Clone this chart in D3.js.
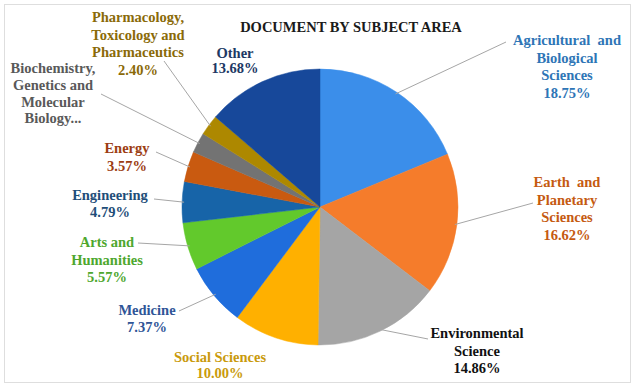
<!DOCTYPE html>
<html><head><meta charset="utf-8"><script src="https://cdn.jsdelivr.net/npm/d3@7"></script></head>
<body style="margin:0">
<svg id="s" width="635" height="385" font-family="Liberation Serif" font-weight="bold"></svg>
<script>
// ---- data ----
const categories = [
  "Agricultural and Biological Sciences",
  "Earth and Planetary Sciences",
  "Environmental Science",
  "Social Sciences",
  "Medicine",
  "Arts and Humanities",
  "Engineering",
  "Energy",
  "Biochemistry, Genetics and Molecular Biology",
  "Pharmacology, Toxicology and Pharmaceutics",
  "Other"
];
const values = [18.75, 16.62, 14.86, 10.00, 7.37, 5.57, 4.79, 3.57, 2.39, 2.40, 13.68];
const labelNames = [
  ["Agricultural  and", "Biological", "Sciences"],
  ["Earth  and", "Planetary", "Sciences"],
  ["Environmental", "Science"],
  ["Social Sciences"],
  ["Medicine"],
  ["Arts and", "Humanities"],
  ["Engineering"],
  ["Energy"],
  ["Biochemistry,", "Genetics and", "Molecular", "Biology..."],
  ["Pharmacology,", "Toxicology and", "Pharmaceutics"],
  ["Other"]
];
const showPercent = [true, true, true, true, true, true, true, true, false, true, true];
const title = "DOCUMENT BY SUBJECT AREA";

// ---- styles / layout ----
const sliceColors = ["#3b8eea", "#f57c2b", "#a5a5a5", "#ffb000", "#1f6ddc", "#62c92c",
                     "#1764a8", "#c95a10", "#737373", "#ad8800", "#17489a"];
const textColors = ["#2e75b6", "#c55a11", "#111111", "#c99a0c", "#2f5597", "#4ea72e",
                    "#1f4e79", "#9c3d12", "#595959", "#8a6a08", "#203864"];
// label block: centre x, first line centre y, line height, leader end (or null)
const labelLayout = [
  {x: 567, y: 40,  lh: 17.5, end: [506, 42]},
  {x: 567, y: 182, lh: 17.5, end: [533, 203]},
  {x: 477, y: 333, lh: 17.5, end: [428, 339]},
  {x: 220, y: 357, lh: 16,   end: null},
  {x: 147, y: 310, lh: 17,   end: [179, 311]},
  {x: 107, y: 242, lh: 17.5, end: [138, 243]},
  {x: 110, y: 195, lh: 17,   end: [154, 199]},
  {x: 127, y: 148, lh: 17.5, end: [156, 152]},
  {x: 53,  y: 68,  lh: 16.8, end: [101, 94]},
  {x: 138, y: 17,  lh: 17.7, end: [164, 61]},
  {x: 235, y: 53,  lh: 15,   end: null}
];

const svg = d3.select("#s");
const W = 635, H = 385;
const cx = 320, cy = 207, R = 138;

svg.append("rect").attr("x", 4.5).attr("y", 4.5).attr("width", 626).attr("height", 378)
  .attr("fill", "none").attr("stroke", "#dedede").attr("stroke-width", 1);

const data = categories.map((c, i) => ({name: c, value: values[i], i}));
const pie = d3.pie().value(d => d.value).sort(null).startAngle(0).endAngle(2 * Math.PI);
const arcs = pie(data);
const arc = d3.arc().innerRadius(0).outerRadius(R);

const g = svg.append("g").attr("transform", `translate(${cx},${cy})`);
g.selectAll("path.slice").data(arcs).enter().append("path")
  .attr("class", "slice")
  .attr("d", arc)
  .attr("fill", d => sliceColors[d.data.i])
  .attr("stroke", d => sliceColors[d.data.i])
  .attr("stroke-width", 0.5);

// leader lines
arcs.forEach(d => {
  const L = labelLayout[d.data.i];
  if (!L.end) return;
  const a = (d.startAngle + d.endAngle) / 2;
  const px = cx + Math.sin(a) * (R - 2);
  const py = cy - Math.cos(a) * (R - 2);
  svg.append("line")
    .attr("x1", px).attr("y1", py)
    .attr("x2", L.end[0]).attr("y2", L.end[1])
    .attr("stroke", "#a6a6a6").attr("stroke-width", 1);
});

// labels (one text element per line)
const fmt = d3.format(".2f");
arcs.forEach(d => {
  const i = d.data.i;
  const L = labelLayout[i];
  const lines = labelNames[i].slice();
  if (showPercent[i]) lines.push(fmt(values[i]) + "%");
  lines.forEach((ln, k) => {
    svg.append("text")
      .attr("x", L.x).attr("y", L.y + k * L.lh + 5)
      .attr("text-anchor", "middle")
      .attr("fill", textColors[i])
      .attr("font-family", "Liberation Serif")
      .attr("font-weight", "bold")
      .attr("font-size", 14.5)
      .attr("xml:space", "preserve")
      .text(ln);
  });
});

svg.append("text")
  .attr("x", 351).attr("y", 32)
  .attr("text-anchor", "middle")
  .attr("fill", "#1a1a1a")
  .attr("font-family", "Liberation Serif")
  .attr("font-weight", "bold")
  .attr("font-size", 14.5)
  .text(title);
</script>
</body>
</html>
